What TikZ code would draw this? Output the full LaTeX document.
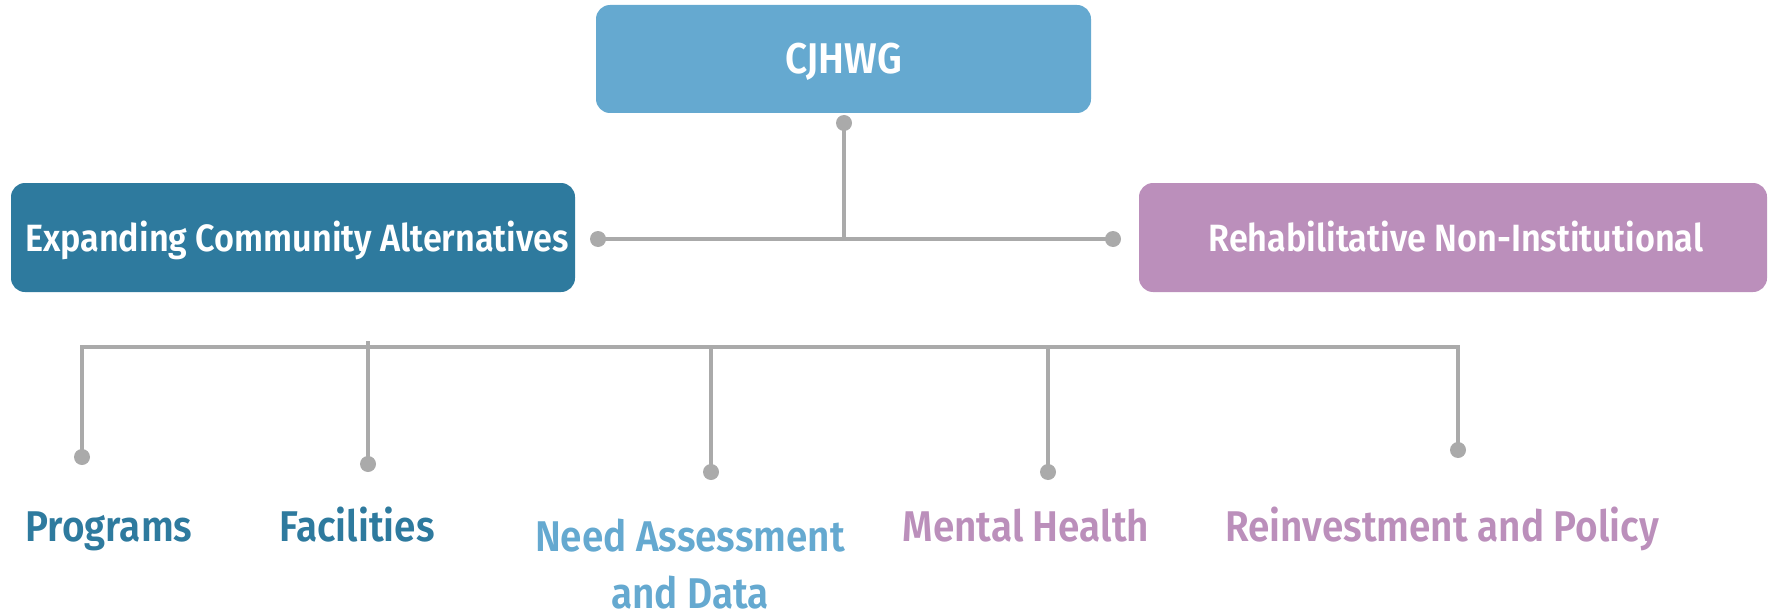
\documentclass[tikz,border=0pt]{standalone}
\usepackage{fontspec}
\setmainfont{Fira Sans}[UprightFont={* SemiBold},FakeStretch=0.9]
\definecolor{dteal}{RGB}{46,122,158}
\definecolor{lblue}{RGB}{101,169,208}
\definecolor{purp}{RGB}{187,143,187}
\definecolor{lgray}{RGB}{170,170,170}
\begin{document}
\begin{tikzpicture}[x=1pt,y=-1pt,
 box/.style={draw=none,rounded corners=14pt,inner sep=0pt},
 conn/.style={draw=lgray,line width=3.3pt},
 dotc/.style={circle,fill=lgray,inner sep=0pt,minimum size=16pt},
 boxtxt/.style={text=white,font=\fontsize{38}{44}\selectfont,anchor=base,inner sep=0pt},
 toptxt/.style={text=white,font=\fontsize{43}{50}\selectfont,anchor=base,inner sep=0pt},
 lab/.style={font=\fontsize{43}{57}\selectfont,anchor=base,inner sep=0pt,align=center}]
\useasboundingbox (0,0) rectangle (1768,615);
% boxes
\node[box,fill=lblue,minimum width=495pt,minimum height=108pt] (cj) at (843.5,59) {};
\node[box,fill=dteal,minimum width=564pt,minimum height=109pt] (eca) at (293,237.5) {};
\node[box,fill=purp,minimum width=628pt,minimum height=109pt] (rni) at (1453,237.5) {};
\node[toptxt] (cjt) at (843.5,74) {CJHWG};
\node[boxtxt] (ecat) at (297,251) {Expanding Community Alternatives};
\node[boxtxt] (rnit) at (1456,251) {Rehabilitative Non-Institutional};
% top connectors
\coordinate (topdot) at (844,123);
\coordinate (hj) at (844,239);
\coordinate (ldot) at (598,239);
\coordinate (rdot) at (1113,239);
\draw[conn] (topdot) -- (hj);
\draw[conn] (ldot) -- (rdot);
\node[dotc] (td) at (topdot) {};
\node[dotc] (ld) at (ldot) {};
\node[dotc] (rd) at (rdot) {};
% bottom bus
\coordinate (b1) at (82,347);
\coordinate (b5) at (1458,347);
\coordinate (d1) at (82,457);
\coordinate (t2) at (368,341);
\coordinate (d2) at (368,464);
\coordinate (d3) at (711,472);
\coordinate (d4) at (1048,472);
\coordinate (d5) at (1458,450);
\draw[conn,line join=miter] (d1) -- (b1) -- (b5) -- (d5);
\draw[conn] (t2) -- (d2);
\draw[conn] (d3 |- b1) -- (d3);
\draw[conn] (d4 |- b1) -- (d4);
\foreach \d in {d1,d2,d3,d4,d5} \node[dotc] at (\d) {};
% labels
\node[lab,text=dteal] (l1) at (109,541) {Programs};
\node[lab,text=dteal] (l2) at (357,541) {Facilities};
\node[lab,text=lblue] (l3) at (690,551) {Need Assessment};
\node[lab,text=lblue] (l3b) at (690,608) {and Data};
\node[lab,text=purp] (l4) at (1026,541) {Mental Health};
\node[lab,text=purp] (l5) at (1442,541) {Reinvestment and Policy};
\end{tikzpicture}
\end{document}
